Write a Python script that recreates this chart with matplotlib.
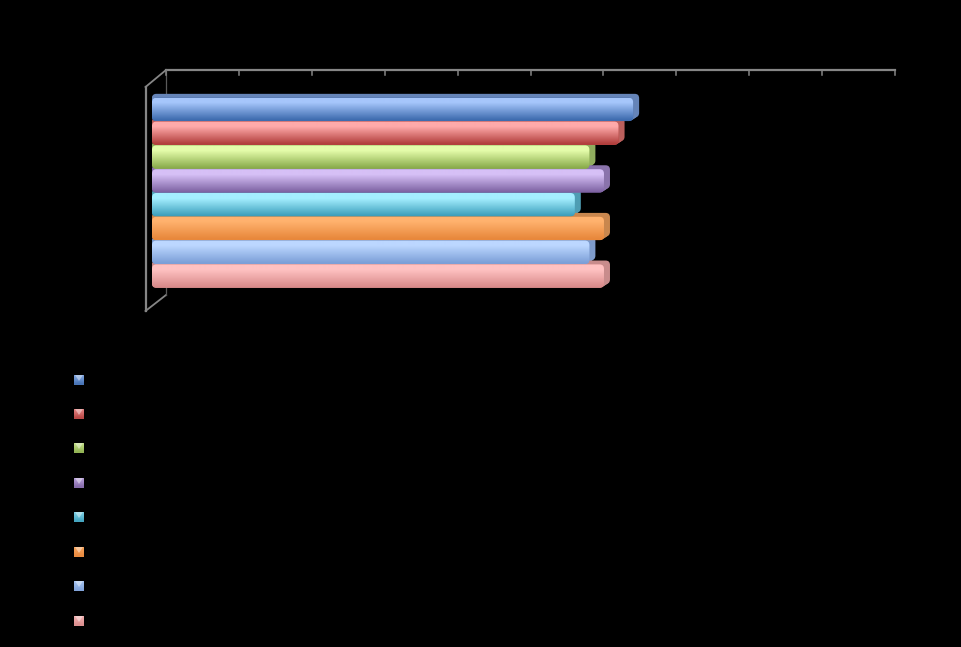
import numpy as np
import matplotlib
matplotlib.use("Agg")
import matplotlib.pyplot as plt
from matplotlib.colors import LinearSegmentedColormap
from matplotlib.patches import FancyBboxPatch, Polygon
from matplotlib.transforms import Affine2D

# Values (axis runs 0 to 10, labels are black on black)
values = [6.6, 6.4, 6.0, 6.2, 5.8, 6.2, 6.0, 6.2]

# top highlight, bottom shade, depth colour of each series
light = ["#a6c6fb", "#ffaaaa", "#e4fcaa", "#d6c0f6", "#a4eeff", "#ffb26e", "#bcd7ff", "#ffc2c2"]
dark = ["#3f6db0", "#b23f3d", "#8bad4d", "#7f64a4", "#3c9fbb", "#e8883c", "#7da0d8", "#d98b8b"]
side = ["#6584b8", "#bb5f5c", "#90ad5e", "#8a73ab", "#4e9db3", "#c9874e", "#7e9bcb", "#c88c8c"]

W, H = 961, 647
fig = plt.figure(figsize=(W / 100, H / 100), dpi=100, facecolor="black")


def pos(left, top, right, bottom):
    return [left / W, 1 - bottom / H, (right - left) / W, (bottom - top) / H]


# Bars
ax = fig.add_axes(pos(152, 97.5, 881, 288))
ax.set_xlim(0, 10)
ax.set_ylim(len(values), 0)
ax.axis("off")

px_x = 72.9
px_y = 190.5 / len(values)
aspect = px_x / px_y
rounding = 0.06

for i, v in enumerate(values):
    # extruded depth, one pixel step at a time, kept behind every front face
    for d in range(1, 7):
        shift = Affine2D().translate(d, d * 0.65)
        back = FancyBboxPatch((-d / px_x, i + 0.01), v + d / px_x, 0.98,
                              boxstyle=f"round,pad=0,rounding_size={rounding}",
                              mutation_aspect=aspect, fc=side[i], ec="none",
                              transform=ax.transData + shift, zorder=2 + i * 0.1,
                              clip_on=False)
        ax.add_patch(back)

    face = FancyBboxPatch((0, i + 0.01), v, 0.98,
                          boxstyle=f"round,pad=0,rounding_size={rounding}",
                          mutation_aspect=aspect, fc=dark[i], ec="none",
                          zorder=3 + i, clip_on=False)
    ax.add_patch(face)

    cmap = LinearSegmentedColormap.from_list(
        "bar", [(0, light[i]), (0.22, light[i]), (0.95, dark[i]), (1, dark[i])])
    grad = ax.imshow(np.linspace(0, 1, 48).reshape(-1, 1), cmap=cmap, aspect="auto",
                     extent=[0, v, i + 1, i], zorder=3 + i + 0.5)
    grad.set_clip_path(face)

ax.set_xlim(0, 10)
ax.set_ylim(len(values), 0)

# Axis frame and legend keys, in pixel coordinates
over = fig.add_axes([0, 0, 1, 1], zorder=-1)
over.set_xlim(0, W)
over.set_ylim(H, 0)
over.axis("off")
over.patch.set_alpha(0)

grey = "#868686"
over.plot([166, 895], [70, 70], color=grey, lw=1.6)
over.plot([145.5, 145.5], [87, 311], color=grey, lw=1.6)
over.plot([145.5, 166], [87, 70], color=grey, lw=1.3)
over.plot([145.5, 166], [311, 295], color=grey, lw=1.3)
over.plot([166, 166], [70, 295], color="#5a5a5a", lw=0.9)
for t in np.arange(11):
    x = 166 + t * px_x
    over.plot([x, x], [70, 75], color=grey, lw=1.1)

leg = fig.add_axes([0, 0, 1, 1], zorder=5)
leg.axis("off")
leg.patch.set_alpha(0)

key_y = [380, 414, 448, 483, 517, 552, 586, 621]
key_x = 79
r = 5
for y, hi, lo in zip(key_y, light, dark):
    cmap = LinearSegmentedColormap.from_list("key", [lo, hi])
    leg.imshow(np.array([[0.55], [0.35], [0.1]]), cmap=cmap, vmin=0, vmax=1,
               aspect="auto", extent=[key_x - r, key_x + r, y + r, y - r], interpolation="bilinear")
    leg.add_patch(Polygon([(key_x - r + 1, y - r), (key_x + r - 1, y - r), (key_x, y + 1)],
                          fc="white", alpha=0.42, ec="none"))
leg.set_xlim(0, W)
leg.set_ylim(H, 0)

fig.savefig("out.png", dpi=100, facecolor="black")
